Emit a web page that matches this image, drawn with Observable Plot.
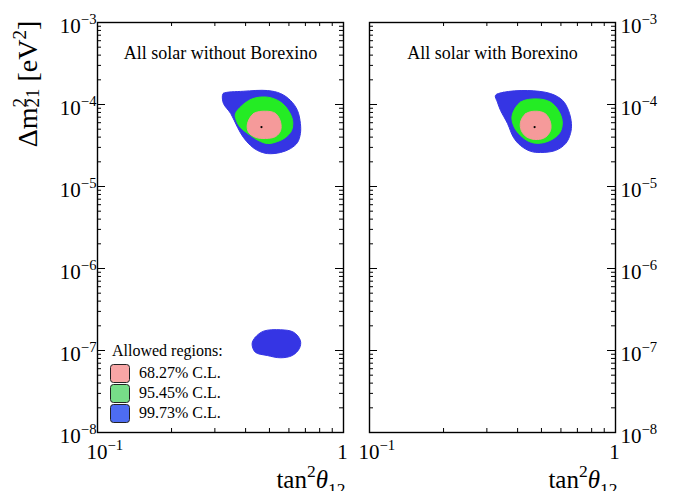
<!DOCTYPE html>
<html><head><meta charset="utf-8">
<script src="https://cdn.jsdelivr.net/npm/d3@7"></script>
<script src="https://cdn.jsdelivr.net/npm/@observablehq/plot@0.6"></script>
<style>
body{margin:0;background:#fff;}
#wrap{position:relative;width:676px;height:491px;overflow:hidden;background:#fff;font-family:"Liberation Serif",serif;}
#wrap svg{position:absolute;top:0;}
</style></head><body><div id="wrap"></div>
<script>
// ---- texts ----
const panelTitles = ["All solar without Borexino", "All solar with Borexino"];
const xLabel = "tan^2θ_12";
const legendTitle = "Allowed regions:";
const clLabels = ["68.27% C.L.", "95.45% C.L.", "99.73% C.L."];
const clColors = ["#f59a9a", "#24ec24", "#3535e4"];
const legendColors = ["#f8a6a6", "#77dd88", "#4d6cf2"];

// ---- axes ----
const xDomain = [0.1, 1];
const yDomain = [1e-8, 1e-3];
const xMajor = [0.1, 1];
const xMajorLabels = ["10^−1", "1"];
const xMinor = [0.2, 0.3, 0.4, 0.5, 0.6, 0.7, 0.8, 0.9];
const yMajor = [1e-8, 1e-7, 1e-6, 1e-5, 1e-4, 1e-3];
const yMajorLabels = ["10^−8", "10^−7", "10^−6", "10^−5", "10^−4", "10^−3"];
const yMinorMultipliers = [2, 3, 4, 5, 6, 7, 8, 9];

// ---- contours: without Borexino ----
const noBx997Tan = [0.322, 0.325, 0.392, 0.491, 0.555, 0.609, 0.650, 0.668, 0.668, 0.650, 0.609, 0.555, 0.491, 0.447, 0.419, 0.392, 0.371, 0.348, 0.325];
const noBx997Dm  = [1.29e-4, 1.37e-4, 1.45e-4, 1.48e-4, 1.36e-4, 1.12e-4, 8.45e-5, 5.86e-5, 4.42e-5, 3.44e-5, 2.90e-5, 2.60e-5, 2.52e-5, 2.75e-5, 3.16e-5, 3.96e-5, 5.25e-5, 7.76e-5, 1.03e-4];
const noBx954Tan = [0.364, 0.419, 0.491, 0.555, 0.597, 0.621, 0.615, 0.581, 0.540, 0.491, 0.451, 0.419, 0.381, 0.367];
const noBx954Dm  = [7.76e-5, 1.15e-4, 1.23e-4, 1.07e-4, 8.45e-5, 6.38e-5, 4.82e-5, 3.96e-5, 3.54e-5, 3.34e-5, 3.64e-5, 4.19e-5, 5.25e-5, 6.38e-5];
const noBx683Tan = [0.407, 0.431, 0.482, 0.530, 0.555, 0.555, 0.530, 0.482, 0.438, 0.411];
const noBx683Dm  = [5.82e-5, 7.76e-5, 8.28e-5, 7.76e-5, 6.08e-5, 4.82e-5, 4.07e-5, 3.85e-5, 3.99e-5, 4.59e-5];
const noBxLowTan = [0.425, 0.438, 0.473, 0.555, 0.627, 0.668, 0.662, 0.619, 0.555, 0.490, 0.438];
const noBxLowDm  = [1.21e-7, 1.45e-7, 1.72e-7, 1.79e-7, 1.67e-7, 1.32e-7, 1.06e-7, 8.69e-8, 8.15e-8, 8.69e-8, 9.53e-8];
// ---- contours: with Borexino ----
const bx997Tan = [0.325, 0.351, 0.438, 0.544, 0.610, 0.644, 0.662, 0.656, 0.627, 0.570, 0.496, 0.451, 0.411, 0.385, 0.364, 0.341, 0.331];
const bx997Dm  = [1.29e-4, 1.41e-4, 1.48e-4, 1.36e-4, 1.12e-4, 8.45e-5, 5.86e-5, 4.42e-5, 3.34e-5, 2.75e-5, 2.60e-5, 2.69e-5, 3.16e-5, 3.96e-5, 5.86e-5, 8.45e-5, 1.07e-4];
const bx954Tan = [0.380, 0.411, 0.481, 0.544, 0.586, 0.607, 0.600, 0.570, 0.519, 0.473, 0.437, 0.404, 0.385];
const bx954Dm  = [7.35e-5, 1.07e-4, 1.17e-4, 1.07e-4, 8.45e-5, 6.38e-5, 4.82e-5, 3.99e-5, 3.47e-5, 3.37e-5, 3.64e-5, 4.42e-5, 5.55e-5];
const bx683Tan = [0.411, 0.431, 0.473, 0.519, 0.544, 0.544, 0.519, 0.481, 0.437, 0.414];
const bx683Dm  = [6.08e-5, 7.71e-5, 8.28e-5, 7.71e-5, 6.08e-5, 4.82e-5, 3.99e-5, 3.74e-5, 3.99e-5, 4.82e-5];
// ---- best fit points ----
const bestFitTan = [0.464, 0.469];
const bestFitDm = [5.3e-5, 5.3e-5];

const zip = (xs, ys) => xs.map((x, i) => ({x, y: ys[i]}));
const yMinor = [];
for (const d of yMajor.slice(0, -1)) for (const m of yMinorMultipliers) yMinor.push(d * m);

const panels = [
  {title: panelTitles[0], side: "left", left: 0, width: 356, mL: 97, mR: 13,
   regions: [[zip(noBx997Tan, noBx997Dm), 2], [zip(noBxLowTan, noBxLowDm), 2], [zip(noBx954Tan, noBx954Dm), 1], [zip(noBx683Tan, noBx683Dm), 0]],
   best: {x: bestFitTan[0], y: bestFitDm[0]}},
  {title: panelTitles[1], side: "right", left: 356, width: 320, mL: 13, mR: 61,
   regions: [[zip(bx997Tan, bx997Dm), 2], [zip(bx954Tan, bx954Dm), 1], [zip(bx683Tan, bx683Dm), 0]],
   best: {x: bestFitTan[1], y: bestFitDm[1]}}
];

const H = 491, mT = 22, mB = 59;
const frameH = H - mT - mB;

function richify(el) {
  const s = el.textContent;
  if (!/[\^_]/.test(s)) return;
  const fs = parseFloat(getComputedStyle(el).fontSize) || 16;
  while (el.firstChild) el.removeChild(el.firstChild);
  let cur = 0;
  for (const p of s.split(/(\^[−\d]+|_\d+)/)) {
    if (!p) continue;
    let target = 0, txt = p, small = false;
    if (p[0] === "^") { target = -0.42 * fs; txt = p.slice(1); small = true; }
    else if (p[0] === "_") { target = 0.28 * fs; txt = p.slice(1); small = true; }
    const t = document.createElementNS("http://www.w3.org/2000/svg", "tspan");
    if (target !== cur) t.setAttribute("dy", (target - cur).toFixed(2));
    cur = target;
    if (small) t.setAttribute("font-size", (0.7 * fs).toFixed(1));
    if (txt === "θ") t.setAttribute("font-style", "italic");
    t.textContent = txt;
    el.appendChild(t);
  }
}

const wrap = document.getElementById("wrap");
panels.forEach((p, pi) => {
  const frameW = p.width - p.mL - p.mR;
  const tickMaj = 8, tickMin = 4;
  const marks = [];
  for (const [pts, lvl] of p.regions) {
    marks.push(Plot.line(pts, {x: "x", y: "y", fill: clColors[lvl], stroke: clColors[lvl], strokeWidth: 1, curve: "catmull-rom-closed"}));
  }
  marks.push(Plot.dot([p.best], {x: "x", y: "y", r: 1.1, fill: "black", stroke: null}));
  // ticks on all sides
  const tk = {stroke: "black", strokeWidth: 1};
  marks.push(
    Plot.tickY(yMajor, {...tk, y: d => d, insetRight: frameW - tickMaj}),
    Plot.tickY(yMajor, {...tk, y: d => d, insetLeft: frameW - tickMaj}),
    Plot.tickY(yMinor, {...tk, y: d => d, insetRight: frameW - tickMin}),
    Plot.tickY(yMinor, {...tk, y: d => d, insetLeft: frameW - tickMin}),
    Plot.tickX(xMinor, {...tk, x: d => d, insetTop: frameH - tickMin}),
    Plot.tickX(xMinor, {...tk, x: d => d, insetBottom: frameH - tickMin}),
    Plot.frame({stroke: "black", strokeWidth: 1.4})
  );
  // y tick labels
  if (p.side === "left") {
    marks.push(Plot.text(yMajor, {y: d => d, text: (d, i) => yMajorLabels[i], frameAnchor: "left", textAnchor: "end", dx: -1, dy: 4, fontSize: 21, fill: "black"}));
  } else {
    marks.push(Plot.text(yMajor, {y: d => d, text: (d, i) => yMajorLabels[i], frameAnchor: "right", textAnchor: "start", dx: 5, dy: 4, fontSize: 21, fill: "black"}));
  }
  // x tick labels
  marks.push(
    Plot.text([xMajor[0]], {x: d => d, text: () => xMajorLabels[0], frameAnchor: "bottom", textAnchor: "start", lineAnchor: "bottom", dx: -11, dy: 26, fontSize: 21, fill: "black"}),
    Plot.text([xMajor[1]], {x: d => d, text: () => xMajorLabels[1], frameAnchor: "bottom", textAnchor: "middle", lineAnchor: "bottom", dx: -1, dy: 26, fontSize: 21, fill: "black"}),
    Plot.text([xLabel], {text: d => d, frameAnchor: "bottom-right", textAnchor: "end", lineAnchor: "bottom", dx: 2, dy: 55, fontSize: 25, fill: "black"}),
    Plot.text([p.title], {text: d => d, frameAnchor: "top", dy: 24, fontSize: 18, fill: "black"})
  );
  const chart = Plot.plot({
    width: p.width, height: H,
    marginLeft: p.mL, marginRight: p.mR, marginTop: mT, marginBottom: mB,
    x: {type: "log", domain: xDomain, axis: null},
    y: {type: "log", domain: yDomain, axis: null},
    style: {fontFamily: "Liberation Serif, serif", background: "transparent", overflow: "visible"},
    marks
  });
  chart.style.left = p.left + "px";
  wrap.appendChild(chart);
  chart.querySelectorAll("text").forEach(richify);

  const svg = d3.select(chart);
  if (p.side === "left") {
    // y axis title
    const fs = 28;
    const t = svg.append("text")
      .attr("transform", "translate(37,84) rotate(-90)")
      .attr("text-anchor", "middle")
      .attr("font-family", "Liberation Serif, serif")
      .attr("font-size", fs).attr("fill", "black");
    t.append("tspan").text("Δm");
    t.append("tspan").attr("font-size", fs * 0.68).attr("dy", -0.38 * fs).text("2");
    t.append("tspan").attr("font-size", fs * 0.68).attr("dx", -fs * 0.34).attr("dy", 0.46 * fs).text("21");
    t.append("tspan").attr("dy", -0.08 * fs).text(" [eV");
    t.append("tspan").attr("font-size", fs * 0.68).attr("dy", -0.38 * fs).text("2");
    t.append("tspan").attr("dy", 0.38 * fs).text("]");
    // legend
    const g = svg.append("g").attr("font-family", "Liberation Serif, serif").attr("font-size", 16)
      .attr("fill", "black").attr("text-anchor", "start");
    g.append("text").attr("x", 112).attr("y", 356).text(legendTitle);
    clLabels.forEach((lab, i) => {
      const y0 = 364 + i * 20;
      g.append("rect").attr("x", 110.5).attr("y", y0 + 0.5).attr("width", 19).attr("height", 18).attr("rx", 3)
        .attr("fill", legendColors[i]).attr("stroke", "#222").attr("stroke-width", 1);
      g.append("text").attr("x", 139).attr("y", y0 + 14).text(lab);
    });
  }
});
</script></body></html>
